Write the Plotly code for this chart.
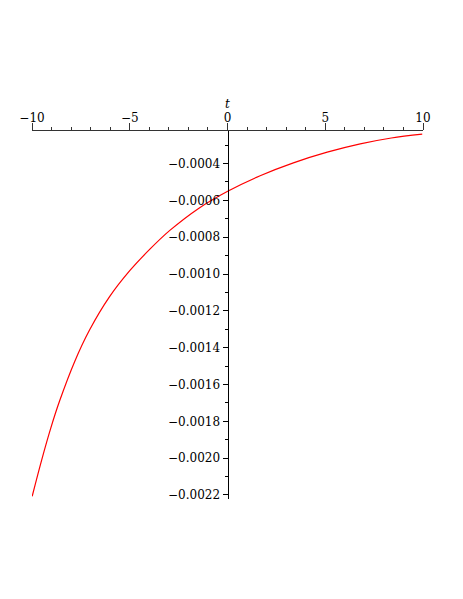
import plotly.graph_objects as go

# values
t_vals = [-9.99, -9.51, -9.04, -8.59, -7.82, -7.05, -6.03, -5.00, -3.97,
          -2.95, -1.46, 0.01, 1.67, 3.37, 5.10, 6.79, 8.38, 9.96]
y_vals = [-0.002207, -0.002012, -0.001837, -0.001690, -0.001476, -0.001303,
          -0.001123, -0.000982, -0.000865, -0.000763, -0.000642, -0.000550,
          -0.000466, -0.000396, -0.000338, -0.000293, -0.000261, -0.000240]

x_ticks = [-10, -5, 0, 5, 10]
y_ticks = [-0.0022, -0.0020, -0.0018, -0.0016, -0.0014, -0.0012,
           -0.0010, -0.0008, -0.0006, -0.0004]

font = dict(family="DejaVu Serif", size=12, color="black")

fig = go.Figure()
fig.add_trace(go.Scatter(
    x=t_vals, y=y_vals, mode="lines",
    line=dict(color="red", width=1.2, shape="spline", smoothing=1.0),
    showlegend=False,
))

# page body has an 8px margin, so the figure is a bit smaller than the window
fig.update_layout(
    width=455,
    height=591,
    margin=dict(l=24, r=40, t=123, b=100),
    plot_bgcolor="white",
    paper_bgcolor="white",
    font=font,
    xaxis=dict(
        range=[-10, 10],
        side="top",
        automargin=False,
        showgrid=False,
        zeroline=False,
        showline=True,
        linecolor="#333",
        linewidth=1,
        ticks="outside",
        ticklen=7,
        tickcolor="#333",
        tickvals=x_ticks,
        tickfont=font,
        ticklabelstandoff=-4,
        minor=dict(dtick=1, ticks="outside", ticklen=3, tickcolor="#333"),
        title=dict(text="<i>t</i>", standoff=0, font=font),
    ),
    yaxis=dict(
        range=[-0.002222, -0.000223],
        anchor="free",
        position=0.5,
        automargin=False,
        showgrid=False,
        zeroline=False,
        showline=True,
        linecolor="black",
        linewidth=1,
        ticks="outside",
        ticklen=5,
        tickcolor="black",
        tickvals=y_ticks,
        tickformat=".4f",
        tickfont=font,
        minor=dict(dtick=0.0001, tick0=0, ticks="outside", ticklen=3, tickcolor="black"),
    ),
)

fig.write_html("out.html")
